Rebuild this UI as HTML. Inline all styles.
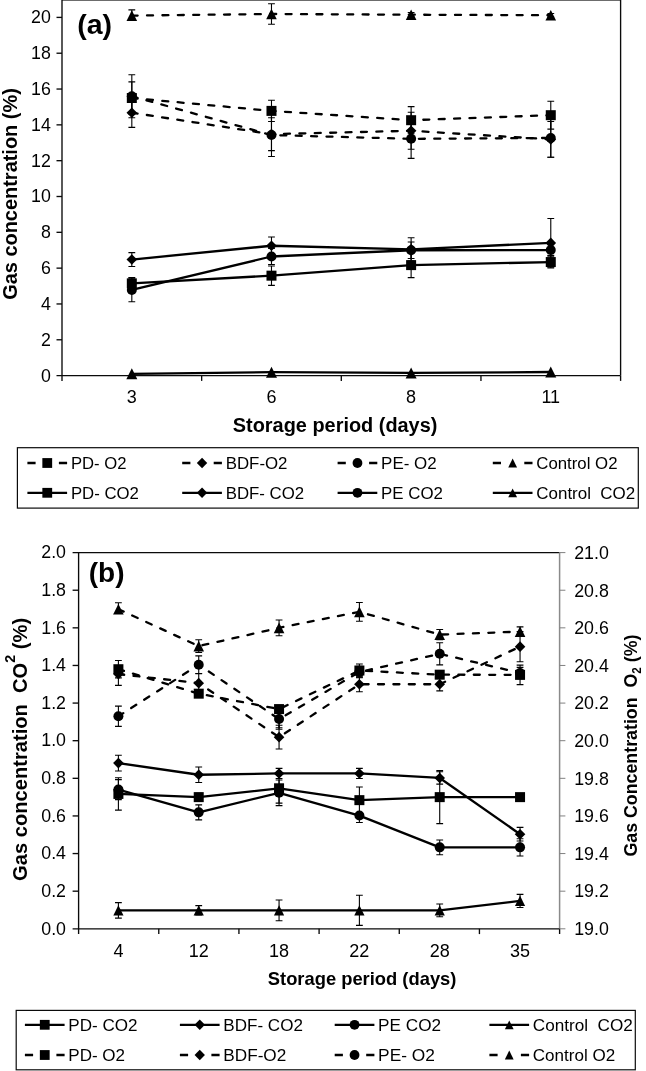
<!DOCTYPE html>
<html><head><meta charset="utf-8"><title>Gas concentration charts</title>
<style>
html,body{margin:0;padding:0;background:#fff;}
body{width:646px;height:1071px;overflow:hidden;}
svg{display:block;font-family:"Liberation Sans",sans-serif;fill:#000;will-change:transform;}
</style></head>
<body>
<svg width="646" height="1071" viewBox="0 0 646 1071">
<rect width="646" height="1071" fill="#fff"/>
<rect x="62.0" y="0" width="558.6" height="1" fill="#6c6c6c"/>
<path d="M620.6 0V375.6" stroke="#0a0a0a" stroke-width="1.35" fill="none"/>
<path d="M62.0 -0.09999999999999998V380.90000000000003M56.5 375.6H620.6" stroke="#0a0a0a" stroke-width="1.35" fill="none"/>
<text x="50.9" y="381.50" font-size="17.8" text-anchor="end">0</text>
<path d="M56.5 339.78H62.0" stroke="#0a0a0a" stroke-width="1.35"/>
<text x="50.9" y="345.68" font-size="17.8" text-anchor="end">2</text>
<path d="M56.5 303.96H62.0" stroke="#0a0a0a" stroke-width="1.35"/>
<text x="50.9" y="309.86" font-size="17.8" text-anchor="end">4</text>
<path d="M56.5 268.14H62.0" stroke="#0a0a0a" stroke-width="1.35"/>
<text x="50.9" y="274.04" font-size="17.8" text-anchor="end">6</text>
<path d="M56.5 232.32H62.0" stroke="#0a0a0a" stroke-width="1.35"/>
<text x="50.9" y="238.22" font-size="17.8" text-anchor="end">8</text>
<path d="M56.5 196.50H62.0" stroke="#0a0a0a" stroke-width="1.35"/>
<text x="50.9" y="202.40" font-size="17.8" text-anchor="end">10</text>
<path d="M56.5 160.68H62.0" stroke="#0a0a0a" stroke-width="1.35"/>
<text x="50.9" y="166.58" font-size="17.8" text-anchor="end">12</text>
<path d="M56.5 124.86H62.0" stroke="#0a0a0a" stroke-width="1.35"/>
<text x="50.9" y="130.76" font-size="17.8" text-anchor="end">14</text>
<path d="M56.5 89.04H62.0" stroke="#0a0a0a" stroke-width="1.35"/>
<text x="50.9" y="94.94" font-size="17.8" text-anchor="end">16</text>
<path d="M56.5 53.22H62.0" stroke="#0a0a0a" stroke-width="1.35"/>
<text x="50.9" y="59.12" font-size="17.8" text-anchor="end">18</text>
<path d="M56.5 17.40H62.0" stroke="#0a0a0a" stroke-width="1.35"/>
<text x="50.9" y="23.30" font-size="17.8" text-anchor="end">20</text>
<path d="M201.65 375.6V380.90000000000003" stroke="#0a0a0a" stroke-width="1.35"/>
<path d="M341.30 375.6V380.90000000000003" stroke="#0a0a0a" stroke-width="1.35"/>
<path d="M480.95 375.6V380.90000000000003" stroke="#0a0a0a" stroke-width="1.35"/>
<path d="M620.60 375.6V380.90000000000003" stroke="#0a0a0a" stroke-width="1.35"/>
<text x="131.82" y="403.2" font-size="18" text-anchor="middle">3</text>
<text x="271.48" y="403.2" font-size="18" text-anchor="middle">6</text>
<text x="411.12" y="403.2" font-size="18" text-anchor="middle">8</text>
<text x="550.78" y="403.2" font-size="18" text-anchor="middle">11</text>
<path d="M131.82 9.88V19.19M128.42 9.88H135.22M128.42 19.19H135.22" stroke="#000" stroke-width="1.1" fill="none"/>
<path d="M271.48 3.79V24.21M268.08 3.79H274.88M268.08 24.21H274.88" stroke="#000" stroke-width="1.1" fill="none"/>
<path d="M411.12 12.56V16.86M407.73 12.56H414.52M407.73 16.86H414.52" stroke="#000" stroke-width="1.1" fill="none"/>
<path d="M550.78 13.46V17.04M547.38 13.46H554.18M547.38 17.04H554.18" stroke="#000" stroke-width="1.1" fill="none"/>
<path d="M131.82 15.61L271.48 14.00L411.12 14.71L550.78 15.25" stroke="#000" stroke-width="2.3" stroke-linejoin="round" fill="none" stroke-dasharray="6.0 9.4" stroke-dashoffset="0.2" stroke-linecap="round"/>
<path d="M131.82 10.31L137.12 20.91L126.52 20.91Z" fill="#000"/>
<path d="M271.48 8.70L276.78 19.30L266.18 19.30Z" fill="#000"/>
<path d="M411.12 9.41L416.43 20.01L405.82 20.01Z" fill="#000"/>
<path d="M550.78 9.95L556.08 20.55L545.48 20.55Z" fill="#000"/>
<path d="M131.82 81.88V114.11M128.42 81.88H135.22M128.42 114.11H135.22" stroke="#000" stroke-width="1.1" fill="none"/>
<path d="M271.48 100.32V121.46M268.08 100.32H274.88M268.08 121.46H274.88" stroke="#000" stroke-width="1.1" fill="none"/>
<path d="M411.12 106.59V133.82M407.73 106.59H414.52M407.73 133.82H414.52" stroke="#000" stroke-width="1.1" fill="none"/>
<path d="M550.78 101.22V129.16M547.38 101.22H554.18M547.38 129.16H554.18" stroke="#000" stroke-width="1.1" fill="none"/>
<path d="M131.82 98.00L271.48 110.89L411.12 120.20L550.78 115.19" stroke="#000" stroke-width="2.3" stroke-linejoin="round" fill="none" stroke-dasharray="6.0 9.4" stroke-dashoffset="0.2" stroke-linecap="round"/>
<rect x="126.82" y="93.00" width="10.00" height="10.00" fill="#000"/>
<rect x="266.48" y="105.89" width="10.00" height="10.00" fill="#000"/>
<rect x="406.12" y="115.20" width="10.00" height="10.00" fill="#000"/>
<rect x="545.78" y="110.19" width="10.00" height="10.00" fill="#000"/>
<path d="M131.82 98.00V127.37M128.42 98.00H135.22M128.42 127.37H135.22" stroke="#000" stroke-width="1.1" fill="none"/>
<path d="M271.48 117.70V150.65M268.08 117.70H274.88M268.08 150.65H274.88" stroke="#000" stroke-width="1.1" fill="none"/>
<path d="M411.12 112.32V149.22M407.73 112.32H414.52M407.73 149.22H414.52" stroke="#000" stroke-width="1.1" fill="none"/>
<path d="M550.78 121.46V157.28M547.38 121.46H554.18M547.38 157.28H554.18" stroke="#000" stroke-width="1.1" fill="none"/>
<path d="M131.82 112.68L271.48 134.17L411.12 130.77L550.78 139.37" stroke="#000" stroke-width="2.3" stroke-linejoin="round" fill="none" stroke-dasharray="6.0 9.4" stroke-dashoffset="0.2" stroke-linecap="round"/>
<path d="M131.82 107.38L137.12 112.68L131.82 117.98L126.52 112.68Z" fill="#000"/>
<path d="M271.48 128.87L276.78 134.17L271.48 139.47L266.18 134.17Z" fill="#000"/>
<path d="M411.12 125.47L416.43 130.77L411.12 136.07L405.82 130.77Z" fill="#000"/>
<path d="M550.78 134.07L556.08 139.37L550.78 144.67L545.48 139.37Z" fill="#000"/>
<path d="M131.82 74.71V117.70M128.42 74.71H135.22M128.42 117.70H135.22" stroke="#000" stroke-width="1.1" fill="none"/>
<path d="M271.48 113.58V156.56M268.08 113.58H274.88M268.08 156.56H274.88" stroke="#000" stroke-width="1.1" fill="none"/>
<path d="M411.12 119.31V158.35M407.73 119.31H414.52M407.73 158.35H414.52" stroke="#000" stroke-width="1.1" fill="none"/>
<path d="M550.78 118.59V157.28M547.38 118.59H554.18M547.38 157.28H554.18" stroke="#000" stroke-width="1.1" fill="none"/>
<path d="M131.82 96.20L271.48 135.07L411.12 138.83L550.78 137.93" stroke="#000" stroke-width="2.3" stroke-linejoin="round" fill="none" stroke-dasharray="6.0 9.4" stroke-dashoffset="0.2" stroke-linecap="round"/>
<circle cx="131.82" cy="96.20" r="5.00" fill="#000"/>
<circle cx="271.48" cy="135.07" r="5.00" fill="#000"/>
<circle cx="411.12" cy="138.83" r="5.00" fill="#000"/>
<circle cx="550.78" cy="137.93" r="5.00" fill="#000"/>
<path d="M131.82 252.65V266.44M128.42 252.65H135.22M128.42 266.44H135.22" stroke="#000" stroke-width="1.1" fill="none"/>
<path d="M271.48 236.98V254.53M268.08 236.98H274.88M268.08 254.53H274.88" stroke="#000" stroke-width="1.1" fill="none"/>
<path d="M411.12 237.69V260.98M407.73 237.69H414.52M407.73 260.98H414.52" stroke="#000" stroke-width="1.1" fill="none"/>
<path d="M550.78 218.53V267.24M547.38 218.53H554.18M547.38 267.24H554.18" stroke="#000" stroke-width="1.1" fill="none"/>
<path d="M131.82 259.54L271.48 245.75L411.12 249.33L550.78 242.89" stroke="#000" stroke-width="2.3" stroke-linejoin="round" fill="none"/>
<path d="M131.82 254.24L137.12 259.54L131.82 264.84L126.52 259.54Z" fill="#000"/>
<path d="M271.48 240.45L276.78 245.75L271.48 251.05L266.18 245.75Z" fill="#000"/>
<path d="M411.12 244.03L416.43 249.33L411.12 254.63L405.82 249.33Z" fill="#000"/>
<path d="M550.78 237.59L556.08 242.89L550.78 248.19L545.48 242.89Z" fill="#000"/>
<path d="M131.82 278.17V301.81M128.42 278.17H135.22M128.42 301.81H135.22" stroke="#000" stroke-width="1.1" fill="none"/>
<path d="M271.48 248.44V264.56M268.08 248.44H274.88M268.08 264.56H274.88" stroke="#000" stroke-width="1.1" fill="none"/>
<path d="M411.12 241.99V258.47M407.73 241.99H414.52M407.73 258.47H414.52" stroke="#000" stroke-width="1.1" fill="none"/>
<path d="M550.78 244.68V255.42M547.38 244.68H554.18M547.38 255.42H554.18" stroke="#000" stroke-width="1.1" fill="none"/>
<path d="M131.82 289.99L271.48 256.50L411.12 250.23L550.78 250.05" stroke="#000" stroke-width="2.3" stroke-linejoin="round" fill="none"/>
<circle cx="131.82" cy="289.99" r="5.00" fill="#000"/>
<circle cx="271.48" cy="256.50" r="5.00" fill="#000"/>
<circle cx="411.12" cy="250.23" r="5.00" fill="#000"/>
<circle cx="550.78" cy="250.05" r="5.00" fill="#000"/>
<path d="M131.82 277.45V289.27M128.42 277.45H135.22M128.42 289.27H135.22" stroke="#000" stroke-width="1.1" fill="none"/>
<path d="M271.48 265.99V285.33M268.08 265.99H274.88M268.08 285.33H274.88" stroke="#000" stroke-width="1.1" fill="none"/>
<path d="M411.12 252.56V277.63M407.73 252.56H414.52M407.73 277.63H414.52" stroke="#000" stroke-width="1.1" fill="none"/>
<path d="M550.78 256.14V267.96M547.38 256.14H554.18M547.38 267.96H554.18" stroke="#000" stroke-width="1.1" fill="none"/>
<path d="M131.82 283.36L271.48 275.66L411.12 265.10L550.78 262.05" stroke="#000" stroke-width="2.3" stroke-linejoin="round" fill="none"/>
<rect x="126.82" y="278.36" width="10.00" height="10.00" fill="#000"/>
<rect x="266.48" y="270.66" width="10.00" height="10.00" fill="#000"/>
<rect x="406.12" y="260.10" width="10.00" height="10.00" fill="#000"/>
<rect x="545.78" y="257.05" width="10.00" height="10.00" fill="#000"/>
<path d="M131.82 373.81L271.48 372.20L411.12 372.91L550.78 372.02" stroke="#000" stroke-width="2.3" stroke-linejoin="round" fill="none"/>
<path d="M131.82 368.31L137.32 379.31L126.32 379.31Z" fill="#000"/>
<path d="M271.48 366.70L276.98 377.70L265.98 377.70Z" fill="#000"/>
<path d="M411.12 367.41L416.62 378.41L405.62 378.41Z" fill="#000"/>
<path d="M550.78 366.52L556.28 377.52L545.28 377.52Z" fill="#000"/>
<text x="77.2" y="34.0" font-size="28.5" font-weight="bold">(a)</text>
<text x="232.8" y="432.4" font-size="19.5" font-weight="bold" textLength="204.6" lengthAdjust="spacingAndGlyphs">Storage period (days)</text>
<text transform="translate(16.6 299.8) rotate(-90)" font-size="19.5" font-weight="bold" textLength="211.6" lengthAdjust="spacingAndGlyphs">Gas concentration (%)</text>
<rect x="17.4" y="447.7" width="620.9" height="60.400000000000034" fill="#fff" stroke="#0a0a0a" stroke-width="1.2"/>
<path d="M27.40 463.0H35.60M58.90 463.0H67.10" stroke="#000" stroke-width="2.3"/>
<rect x="42.35" y="458.10" width="9.80" height="9.80" fill="#000"/>
<text x="70.90" y="468.6" font-size="16.6" textLength="55.6" lengthAdjust="spacingAndGlyphs" xml:space="preserve">PD- O2</text>
<path d="M182.20 463.0H190.40M213.70 463.0H221.90" stroke="#000" stroke-width="2.3"/>
<path d="M202.05 457.80L207.25 463.00L202.05 468.20L196.85 463.00Z" fill="#000"/>
<text x="225.70" y="468.6" font-size="16.6" textLength="61.8" lengthAdjust="spacingAndGlyphs" xml:space="preserve">BDF-O2</text>
<path d="M337.60 463.0H345.80M369.10 463.0H377.30" stroke="#000" stroke-width="2.3"/>
<circle cx="357.45" cy="463.00" r="4.90" fill="#000"/>
<text x="381.10" y="468.6" font-size="16.6" textLength="55.6" lengthAdjust="spacingAndGlyphs" xml:space="preserve">PE- O2</text>
<path d="M492.80 463.0H501.00M524.30 463.0H532.50" stroke="#000" stroke-width="2.3"/>
<path d="M512.65 458.60L517.05 467.40L508.25 467.40Z" fill="#000"/>
<text x="536.30" y="468.6" font-size="16.6" textLength="81.2" lengthAdjust="spacingAndGlyphs" xml:space="preserve">Control O2</text>
<path d="M27.40 492.8H67.10" stroke="#000" stroke-width="2.3"/>
<rect x="42.35" y="487.90" width="9.80" height="9.80" fill="#000"/>
<text x="70.90" y="498.5" font-size="16.6" textLength="68.0" lengthAdjust="spacingAndGlyphs" xml:space="preserve">PD- CO2</text>
<path d="M182.20 492.8H221.90" stroke="#000" stroke-width="2.3"/>
<path d="M202.05 487.60L207.25 492.80L202.05 498.00L196.85 492.80Z" fill="#000"/>
<text x="225.70" y="498.5" font-size="16.6" textLength="78.4" lengthAdjust="spacingAndGlyphs" xml:space="preserve">BDF- CO2</text>
<path d="M337.60 492.8H377.30" stroke="#000" stroke-width="2.3"/>
<circle cx="357.45" cy="492.80" r="4.90" fill="#000"/>
<text x="381.10" y="498.5" font-size="16.6" textLength="61.8" lengthAdjust="spacingAndGlyphs" xml:space="preserve">PE CO2</text>
<path d="M492.80 492.8H532.50" stroke="#000" stroke-width="2.3"/>
<path d="M512.65 488.40L517.05 497.20L508.25 497.20Z" fill="#000"/>
<text x="536.30" y="498.5" font-size="16.6" textLength="98.9" lengthAdjust="spacingAndGlyphs" xml:space="preserve">Control  CO2</text>
<path d="M72.6 552.6H559.6" stroke="#0a0a0a" stroke-width="1.35" fill="none"/>
<path d="M559.6 552.6V928.8" stroke="#8a8a8a" stroke-width="1.5" fill="none"/>
<path d="M78.6 552.6V934.0999999999999M72.6 928.8H559.6M559.6 928.8V934.0999999999999" stroke="#0a0a0a" stroke-width="1.35" fill="none"/>
<path d="M559.6 928.80H565.4" stroke="#808080" stroke-width="1.0"/>
<text x="66.0" y="934.50" font-size="17.8" text-anchor="end">0.0</text>
<text x="574.2" y="935.10" font-size="17.8">19.0</text>
<path d="M72.6 891.18H78.6" stroke="#0a0a0a" stroke-width="1.35"/>
<path d="M559.6 891.18H565.4" stroke="#808080" stroke-width="1.0"/>
<text x="66.0" y="896.88" font-size="17.8" text-anchor="end">0.2</text>
<text x="574.2" y="897.48" font-size="17.8">19.2</text>
<path d="M72.6 853.56H78.6" stroke="#0a0a0a" stroke-width="1.35"/>
<path d="M559.6 853.56H565.4" stroke="#808080" stroke-width="1.0"/>
<text x="66.0" y="859.26" font-size="17.8" text-anchor="end">0.4</text>
<text x="574.2" y="859.86" font-size="17.8">19.4</text>
<path d="M72.6 815.94H78.6" stroke="#0a0a0a" stroke-width="1.35"/>
<path d="M559.6 815.94H565.4" stroke="#808080" stroke-width="1.0"/>
<text x="66.0" y="821.64" font-size="17.8" text-anchor="end">0.6</text>
<text x="574.2" y="822.24" font-size="17.8">19.6</text>
<path d="M72.6 778.32H78.6" stroke="#0a0a0a" stroke-width="1.35"/>
<path d="M559.6 778.32H565.4" stroke="#808080" stroke-width="1.0"/>
<text x="66.0" y="784.02" font-size="17.8" text-anchor="end">0.8</text>
<text x="574.2" y="784.62" font-size="17.8">19.8</text>
<path d="M72.6 740.70H78.6" stroke="#0a0a0a" stroke-width="1.35"/>
<path d="M559.6 740.70H565.4" stroke="#808080" stroke-width="1.0"/>
<text x="66.0" y="746.40" font-size="17.8" text-anchor="end">1.0</text>
<text x="574.2" y="747.00" font-size="17.8">20.0</text>
<path d="M72.6 703.08H78.6" stroke="#0a0a0a" stroke-width="1.35"/>
<path d="M559.6 703.08H565.4" stroke="#808080" stroke-width="1.0"/>
<text x="66.0" y="708.78" font-size="17.8" text-anchor="end">1.2</text>
<text x="574.2" y="709.38" font-size="17.8">20.2</text>
<path d="M72.6 665.46H78.6" stroke="#0a0a0a" stroke-width="1.35"/>
<path d="M559.6 665.46H565.4" stroke="#808080" stroke-width="1.0"/>
<text x="66.0" y="671.16" font-size="17.8" text-anchor="end">1.4</text>
<text x="574.2" y="671.76" font-size="17.8">20.4</text>
<path d="M72.6 627.84H78.6" stroke="#0a0a0a" stroke-width="1.35"/>
<path d="M559.6 627.84H565.4" stroke="#808080" stroke-width="1.0"/>
<text x="66.0" y="633.54" font-size="17.8" text-anchor="end">1.6</text>
<text x="574.2" y="634.14" font-size="17.8">20.6</text>
<path d="M72.6 590.22H78.6" stroke="#0a0a0a" stroke-width="1.35"/>
<path d="M559.6 590.22H565.4" stroke="#808080" stroke-width="1.0"/>
<text x="66.0" y="595.92" font-size="17.8" text-anchor="end">1.8</text>
<text x="574.2" y="596.52" font-size="17.8">20.8</text>
<path d="M559.6 552.60H565.4" stroke="#808080" stroke-width="1.0"/>
<text x="66.0" y="558.30" font-size="17.8" text-anchor="end">2.0</text>
<text x="574.2" y="558.90" font-size="17.8">21.0</text>
<path d="M158.77 928.8V934.0999999999999" stroke="#0a0a0a" stroke-width="1.35"/>
<path d="M238.93 928.8V934.0999999999999" stroke="#0a0a0a" stroke-width="1.35"/>
<path d="M319.10 928.8V934.0999999999999" stroke="#0a0a0a" stroke-width="1.35"/>
<path d="M399.27 928.8V934.0999999999999" stroke="#0a0a0a" stroke-width="1.35"/>
<path d="M479.43 928.8V934.0999999999999" stroke="#0a0a0a" stroke-width="1.35"/>
<text x="118.40" y="956.8" font-size="18" text-anchor="middle">4</text>
<text x="198.73" y="956.8" font-size="18" text-anchor="middle">12</text>
<text x="279.06" y="956.8" font-size="18" text-anchor="middle">18</text>
<text x="359.39" y="956.8" font-size="18" text-anchor="middle">22</text>
<text x="439.72" y="956.8" font-size="18" text-anchor="middle">28</text>
<text x="520.05" y="956.8" font-size="18" text-anchor="middle">35</text>
<path d="M118.40 602.82V609.22M115.00 602.82H121.80" stroke="#000" stroke-width="1.1" fill="none"/>
<path d="M198.73 639.69V652.48M195.33 639.69H202.13M195.33 652.48H202.13" stroke="#000" stroke-width="1.1" fill="none"/>
<path d="M279.06 619.94V635.74M275.66 619.94H282.46M275.66 635.74H282.46" stroke="#000" stroke-width="1.1" fill="none"/>
<path d="M359.39 602.45V621.26M355.99 602.45H362.79M355.99 621.26H362.79" stroke="#000" stroke-width="1.1" fill="none"/>
<path d="M439.72 629.53V639.69M436.32 629.53H443.12M436.32 639.69H443.12" stroke="#000" stroke-width="1.1" fill="none"/>
<path d="M520.05 626.90V636.30M516.65 626.90H523.45M516.65 636.30H523.45" stroke="#000" stroke-width="1.1" fill="none"/>
<path d="M118.40 609.22L198.73 646.09L279.06 627.84L359.39 611.85L439.72 634.61L520.05 631.60" stroke="#000" stroke-width="2.3" stroke-linejoin="round" fill="none" stroke-dasharray="6.0 9.4" stroke-dashoffset="0.2" stroke-linecap="round"/>
<path d="M118.40 603.92L123.70 614.52L113.10 614.52Z" fill="#000"/>
<path d="M198.73 640.79L204.03 651.39L193.43 651.39Z" fill="#000"/>
<path d="M279.06 622.54L284.36 633.14L273.76 633.14Z" fill="#000"/>
<path d="M359.39 606.55L364.69 617.15L354.09 617.15Z" fill="#000"/>
<path d="M439.72 629.31L445.02 639.91L434.42 639.91Z" fill="#000"/>
<path d="M520.05 626.30L525.35 636.90L514.75 636.90Z" fill="#000"/>
<path d="M118.40 660.57V677.87M115.00 660.57H121.80M115.00 677.87H121.80" stroke="#000" stroke-width="1.1" fill="none"/>
<path d="M198.73 689.91V697.44M195.33 689.91H202.13M195.33 697.44H202.13" stroke="#000" stroke-width="1.1" fill="none"/>
<path d="M279.06 705.34V729.23M275.66 705.34H282.46M275.66 729.23H282.46" stroke="#000" stroke-width="1.1" fill="none"/>
<path d="M359.39 663.96V677.12M355.99 663.96H362.79M355.99 677.12H362.79" stroke="#000" stroke-width="1.1" fill="none"/>
<path d="M439.72 670.91V678.44M436.32 670.91H443.12M436.32 678.44H443.12" stroke="#000" stroke-width="1.1" fill="none"/>
<path d="M520.05 665.08V684.65M516.65 665.08H523.45M516.65 684.65H523.45" stroke="#000" stroke-width="1.1" fill="none"/>
<path d="M118.40 669.22L198.73 693.67L279.06 709.10L359.39 670.54L439.72 674.68L520.05 674.87" stroke="#000" stroke-width="2.3" stroke-linejoin="round" fill="none" stroke-dasharray="6.0 9.4" stroke-dashoffset="0.2" stroke-linecap="round"/>
<rect x="113.40" y="664.22" width="10.00" height="10.00" fill="#000"/>
<rect x="193.73" y="688.67" width="10.00" height="10.00" fill="#000"/>
<rect x="274.06" y="704.10" width="10.00" height="10.00" fill="#000"/>
<rect x="354.39" y="665.54" width="10.00" height="10.00" fill="#000"/>
<rect x="434.72" y="669.68" width="10.00" height="10.00" fill="#000"/>
<rect x="515.05" y="669.87" width="10.00" height="10.00" fill="#000"/>
<path d="M118.40 665.65V685.40M115.00 665.65H121.80M115.00 685.40H121.80" stroke="#000" stroke-width="1.1" fill="none"/>
<path d="M198.73 673.74V692.55M195.33 673.74H202.13M195.33 692.55H202.13" stroke="#000" stroke-width="1.1" fill="none"/>
<path d="M279.06 725.28V748.98M275.66 725.28H282.46M275.66 748.98H282.46" stroke="#000" stroke-width="1.1" fill="none"/>
<path d="M359.39 676.75V691.79M355.99 676.75H362.79M355.99 691.79H362.79" stroke="#000" stroke-width="1.1" fill="none"/>
<path d="M439.72 677.69V690.85M436.32 677.69H443.12M436.32 690.85H443.12" stroke="#000" stroke-width="1.1" fill="none"/>
<path d="M520.05 631.60V661.70M516.65 631.60H523.45M516.65 661.70H523.45" stroke="#000" stroke-width="1.1" fill="none"/>
<path d="M118.40 674.11L198.73 683.14L279.06 737.13L359.39 684.27L439.72 684.27L520.05 646.65" stroke="#000" stroke-width="2.3" stroke-linejoin="round" fill="none" stroke-dasharray="6.0 9.4" stroke-dashoffset="0.2" stroke-linecap="round"/>
<path d="M118.40 668.81L123.70 674.11L118.40 679.41L113.10 674.11Z" fill="#000"/>
<path d="M198.73 677.84L204.03 683.14L198.73 688.44L193.43 683.14Z" fill="#000"/>
<path d="M279.06 731.83L284.36 737.13L279.06 742.43L273.76 737.13Z" fill="#000"/>
<path d="M359.39 678.97L364.69 684.27L359.39 689.57L354.09 684.27Z" fill="#000"/>
<path d="M439.72 678.97L445.02 684.27L439.72 689.57L434.42 684.27Z" fill="#000"/>
<path d="M520.05 641.35L525.35 646.65L520.05 651.95L514.75 646.65Z" fill="#000"/>
<path d="M118.40 706.09V726.40M115.00 706.09H121.80M115.00 726.40H121.80" stroke="#000" stroke-width="1.1" fill="none"/>
<path d="M198.73 655.87V673.55M195.33 655.87H202.13M195.33 673.55H202.13" stroke="#000" stroke-width="1.1" fill="none"/>
<path d="M279.06 710.42V727.72M275.66 710.42H282.46M275.66 727.72H282.46" stroke="#000" stroke-width="1.1" fill="none"/>
<path d="M359.39 666.40V677.69M355.99 666.40H362.79M355.99 677.69H362.79" stroke="#000" stroke-width="1.1" fill="none"/>
<path d="M439.72 642.70V664.90M436.32 642.70H443.12M436.32 664.90H443.12" stroke="#000" stroke-width="1.1" fill="none"/>
<path d="M520.05 667.34V678.63M516.65 667.34H523.45M516.65 678.63H523.45" stroke="#000" stroke-width="1.1" fill="none"/>
<path d="M118.40 716.25L198.73 664.71L279.06 719.07L359.39 672.04L439.72 653.80L520.05 672.98" stroke="#000" stroke-width="2.3" stroke-linejoin="round" fill="none" stroke-dasharray="6.0 9.4" stroke-dashoffset="0.2" stroke-linecap="round"/>
<circle cx="118.40" cy="716.25" r="5.00" fill="#000"/>
<circle cx="198.73" cy="664.71" r="5.00" fill="#000"/>
<circle cx="279.06" cy="719.07" r="5.00" fill="#000"/>
<circle cx="359.39" cy="672.04" r="5.00" fill="#000"/>
<circle cx="439.72" cy="653.80" r="5.00" fill="#000"/>
<circle cx="520.05" cy="672.98" r="5.00" fill="#000"/>
<path d="M118.40 755.18V770.98M115.00 755.18H121.80M115.00 770.98H121.80" stroke="#000" stroke-width="1.1" fill="none"/>
<path d="M198.73 767.03V782.46M195.33 767.03H202.13M195.33 782.46H202.13" stroke="#000" stroke-width="1.1" fill="none"/>
<path d="M279.06 768.35V778.51M275.66 768.35H282.46M275.66 778.51H282.46" stroke="#000" stroke-width="1.1" fill="none"/>
<path d="M359.39 768.35V778.51M355.99 768.35H362.79M355.99 778.51H362.79" stroke="#000" stroke-width="1.1" fill="none"/>
<path d="M439.72 771.74V784.15M436.32 771.74H443.12M436.32 784.15H443.12" stroke="#000" stroke-width="1.1" fill="none"/>
<path d="M520.05 827.41V840.96M516.65 827.41H523.45M516.65 840.96H523.45" stroke="#000" stroke-width="1.1" fill="none"/>
<path d="M118.40 763.08L198.73 774.75L279.06 773.43L359.39 773.43L439.72 777.94L520.05 834.19" stroke="#000" stroke-width="2.3" stroke-linejoin="round" fill="none"/>
<path d="M118.40 757.78L123.70 763.08L118.40 768.38L113.10 763.08Z" fill="#000"/>
<path d="M198.73 769.45L204.03 774.75L198.73 780.05L193.43 774.75Z" fill="#000"/>
<path d="M279.06 768.13L284.36 773.43L279.06 778.73L273.76 773.43Z" fill="#000"/>
<path d="M359.39 768.13L364.69 773.43L359.39 778.73L354.09 773.43Z" fill="#000"/>
<path d="M439.72 772.64L445.02 777.94L439.72 783.24L434.42 777.94Z" fill="#000"/>
<path d="M520.05 828.89L525.35 834.19L520.05 839.49L514.75 834.19Z" fill="#000"/>
<path d="M118.40 777.76V810.11M115.00 777.76H121.80M115.00 810.11H121.80" stroke="#000" stroke-width="1.1" fill="none"/>
<path d="M198.73 793.37V800.89M195.33 793.37H202.13M195.33 800.89H202.13" stroke="#000" stroke-width="1.1" fill="none"/>
<path d="M279.06 773.43V803.15M275.66 773.43H282.46M275.66 803.15H282.46" stroke="#000" stroke-width="1.1" fill="none"/>
<path d="M359.39 786.97V813.31M355.99 786.97H362.79M355.99 813.31H362.79" stroke="#000" stroke-width="1.1" fill="none"/>
<path d="M439.72 770.61V823.65M436.32 770.61H443.12M436.32 823.65H443.12" stroke="#000" stroke-width="1.1" fill="none"/>
<path d="M118.40 793.93L198.73 797.13L279.06 788.29L359.39 800.14L439.72 797.13L520.05 797.13" stroke="#000" stroke-width="2.3" stroke-linejoin="round" fill="none"/>
<rect x="113.40" y="788.93" width="10.00" height="10.00" fill="#000"/>
<rect x="193.73" y="792.13" width="10.00" height="10.00" fill="#000"/>
<rect x="274.06" y="783.29" width="10.00" height="10.00" fill="#000"/>
<rect x="354.39" y="795.14" width="10.00" height="10.00" fill="#000"/>
<rect x="434.72" y="792.13" width="10.00" height="10.00" fill="#000"/>
<rect x="515.05" y="792.13" width="10.00" height="10.00" fill="#000"/>
<path d="M118.40 779.64V799.58M115.00 779.64H121.80M115.00 799.58H121.80" stroke="#000" stroke-width="1.1" fill="none"/>
<path d="M198.73 804.84V819.89M195.33 804.84H202.13M195.33 819.89H202.13" stroke="#000" stroke-width="1.1" fill="none"/>
<path d="M279.06 780.01V805.59M275.66 780.01H282.46M275.66 805.59H282.46" stroke="#000" stroke-width="1.1" fill="none"/>
<path d="M359.39 815.56V822.52M355.99 822.52H362.79" stroke="#000" stroke-width="1.1" fill="none"/>
<path d="M439.72 840.02V854.69M436.32 840.02H443.12M436.32 854.69H443.12" stroke="#000" stroke-width="1.1" fill="none"/>
<path d="M520.05 838.70V856.01M516.65 838.70H523.45M516.65 856.01H523.45" stroke="#000" stroke-width="1.1" fill="none"/>
<path d="M118.40 789.61L198.73 812.37L279.06 792.80L359.39 815.56L439.72 847.35L520.05 847.35" stroke="#000" stroke-width="2.3" stroke-linejoin="round" fill="none"/>
<circle cx="118.40" cy="789.61" r="5.00" fill="#000"/>
<circle cx="198.73" cy="812.37" r="5.00" fill="#000"/>
<circle cx="279.06" cy="792.80" r="5.00" fill="#000"/>
<circle cx="359.39" cy="815.56" r="5.00" fill="#000"/>
<circle cx="439.72" cy="847.35" r="5.00" fill="#000"/>
<circle cx="520.05" cy="847.35" r="5.00" fill="#000"/>
<path d="M118.40 902.65V918.08M115.00 902.65H121.80M115.00 918.08H121.80" stroke="#000" stroke-width="1.1" fill="none"/>
<path d="M198.73 905.66V915.07M195.33 905.66H202.13M195.33 915.07H202.13" stroke="#000" stroke-width="1.1" fill="none"/>
<path d="M279.06 900.02V920.71M275.66 900.02H282.46M275.66 920.71H282.46" stroke="#000" stroke-width="1.1" fill="none"/>
<path d="M359.39 895.32V925.41M355.99 895.32H362.79M355.99 925.41H362.79" stroke="#000" stroke-width="1.1" fill="none"/>
<path d="M439.72 903.97V916.76M436.32 903.97H443.12M436.32 916.76H443.12" stroke="#000" stroke-width="1.1" fill="none"/>
<path d="M520.05 894.38V907.54M516.65 894.38H523.45M516.65 907.54H523.45" stroke="#000" stroke-width="1.1" fill="none"/>
<path d="M118.40 910.37L198.73 910.37L279.06 910.37L359.39 910.37L439.72 910.37L520.05 900.96" stroke="#000" stroke-width="2.3" stroke-linejoin="round" fill="none"/>
<path d="M118.40 905.27L123.50 915.47L113.30 915.47Z" fill="#000"/>
<path d="M198.73 905.27L203.83 915.47L193.63 915.47Z" fill="#000"/>
<path d="M279.06 905.27L284.16 915.47L273.96 915.47Z" fill="#000"/>
<path d="M359.39 905.27L364.49 915.47L354.29 915.47Z" fill="#000"/>
<path d="M439.72 905.27L444.82 915.47L434.62 915.47Z" fill="#000"/>
<path d="M520.05 895.86L525.15 906.06L514.95 906.06Z" fill="#000"/>
<text x="88.8" y="581.6" font-size="28.0" font-weight="bold">(b)</text>
<text x="267.8" y="984.6" font-size="18.2" font-weight="bold" textLength="188.6" lengthAdjust="spacingAndGlyphs">Storage period (days)</text>
<text transform="translate(26.8 880.9) rotate(-90)" font-size="19.8" font-weight="bold" textLength="263" lengthAdjust="spacingAndGlyphs" xml:space="preserve">Gas concentration  CO<tspan font-size="14" dy="-11.4">2</tspan><tspan dy="11.4"> (%)</tspan></text>
<text transform="translate(637.2 856.6) rotate(-90)" font-size="19" font-weight="bold" textLength="222" lengthAdjust="spacingAndGlyphs" xml:space="preserve">Gas Concentration  O<tspan font-size="12.4" dy="3.9">2</tspan><tspan dy="-3.9"> (%)</tspan></text>
<rect x="16.2" y="1010.4" width="619.0999999999999" height="59.39999999999998" fill="#fff" stroke="#0a0a0a" stroke-width="1.2"/>
<path d="M24.90 1024.8H64.60" stroke="#000" stroke-width="2.3"/>
<rect x="39.85" y="1019.90" width="9.80" height="9.80" fill="#000"/>
<text x="68.30" y="1030.8" font-size="16.6" textLength="69.2" lengthAdjust="spacingAndGlyphs" xml:space="preserve">PD- CO2</text>
<path d="M179.90 1024.8H219.60" stroke="#000" stroke-width="2.3"/>
<path d="M199.75 1019.60L204.95 1024.80L199.75 1030.00L194.55 1024.80Z" fill="#000"/>
<text x="223.30" y="1030.8" font-size="16.6" textLength="79.6" lengthAdjust="spacingAndGlyphs" xml:space="preserve">BDF- CO2</text>
<path d="M334.70 1024.8H374.40" stroke="#000" stroke-width="2.3"/>
<circle cx="354.55" cy="1024.80" r="4.90" fill="#000"/>
<text x="378.10" y="1030.8" font-size="16.6" textLength="63.0" lengthAdjust="spacingAndGlyphs" xml:space="preserve">PE CO2</text>
<path d="M489.40 1024.8H529.10" stroke="#000" stroke-width="2.3"/>
<path d="M509.25 1020.40L513.65 1029.20L504.85 1029.20Z" fill="#000"/>
<text x="532.80" y="1030.8" font-size="16.6" textLength="100.1" lengthAdjust="spacingAndGlyphs" xml:space="preserve">Control  CO2</text>
<path d="M24.90 1055.0H33.10M56.40 1055.0H64.60" stroke="#000" stroke-width="2.3"/>
<rect x="39.85" y="1050.10" width="9.80" height="9.80" fill="#000"/>
<text x="68.30" y="1061.1" font-size="16.6" textLength="56.8" lengthAdjust="spacingAndGlyphs" xml:space="preserve">PD- O2</text>
<path d="M179.90 1055.0H188.10M211.40 1055.0H219.60" stroke="#000" stroke-width="2.3"/>
<path d="M199.75 1049.80L204.95 1055.00L199.75 1060.20L194.55 1055.00Z" fill="#000"/>
<text x="223.30" y="1061.1" font-size="16.6" textLength="63.0" lengthAdjust="spacingAndGlyphs" xml:space="preserve">BDF-O2</text>
<path d="M334.70 1055.0H342.90M366.20 1055.0H374.40" stroke="#000" stroke-width="2.3"/>
<circle cx="354.55" cy="1055.00" r="4.90" fill="#000"/>
<text x="378.10" y="1061.1" font-size="16.6" textLength="56.8" lengthAdjust="spacingAndGlyphs" xml:space="preserve">PE- O2</text>
<path d="M489.40 1055.0H497.60M520.90 1055.0H529.10" stroke="#000" stroke-width="2.3"/>
<path d="M509.25 1050.60L513.65 1059.40L504.85 1059.40Z" fill="#000"/>
<text x="532.80" y="1061.1" font-size="16.6" textLength="82.4" lengthAdjust="spacingAndGlyphs" xml:space="preserve">Control O2</text>
</svg>
</body></html>
